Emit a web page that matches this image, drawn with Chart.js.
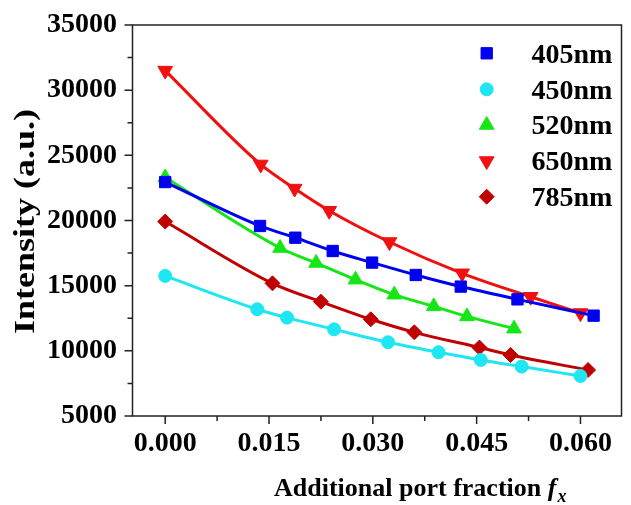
<!DOCTYPE html>
<html><head><meta charset="utf-8">
<script src="https://cdn.jsdelivr.net/npm/chart.js@4.4.0/dist/chart.umd.min.js"></script>
<style>html,body{margin:0;padding:0;background:#fff;overflow:hidden}#wrap{position:relative;width:631px;height:505px}</style>
</head><body><div id="wrap"><canvas id="c" width="631" height="505"></canvas></div>
<script>
const seriesNames = ['405nm', '450nm', '520nm', '650nm', '785nm'];
const x405 = [0, 0.0137, 0.0188, 0.0242, 0.0299, 0.0362, 0.0427, 0.0509, 0.0619];
const y405 = [22950, 19580, 18680, 17660, 16770, 15820, 14930, 13950, 12700];
const x450 = [0, 0.0133, 0.0176, 0.0244, 0.0322, 0.0395, 0.0456, 0.0515, 0.0600];
const y450 = [15750, 13190, 12550, 11650, 10660, 9890, 9300, 8790, 8070];
const x520 = [0, 0.0166, 0.0218, 0.0275, 0.0331, 0.0388, 0.0436, 0.0504];
const y520 = [23300, 17890, 16740, 15460, 14310, 13410, 12640, 11700];
const x650 = [0, 0.0138, 0.0187, 0.0237, 0.0324, 0.0429, 0.0528, 0.0600];
const y650 = [31500, 24300, 22450, 20750, 18350, 15950, 14150, 12900];
const x785 = [0, 0.0155, 0.0225, 0.0297, 0.0360, 0.0454, 0.0499, 0.0611];
const y785 = [19920, 15180, 13770, 12420, 11420, 10250, 9680, 8530];
const xTicks = [0, 0.015, 0.030, 0.045, 0.060];
const yTicks = [5000, 10000, 15000, 20000, 25000, 30000, 35000];
const xTitle = 'Additional port fraction ';
const xTitleVar = 'f';
const xTitleSub = 'x';
const yTitle = 'Intensity (a.u.)';

const FONT = '"Liberation Serif", "Times New Roman", serif';
const colors = ['#0000f0', '#1ee6f2', '#16e616', '#f01010', '#c00000'];
const styles = [
  {pointStyle: 'rect', radius: 8, rotation: 0},
  {pointStyle: 'circle', radius: 6.5, rotation: 0},
  {pointStyle: 'triangle', radius: 8.5, rotation: 0},
  {pointStyle: 'triangle', radius: 8.5, rotation: 180},
  {pointStyle: 'rectRot', radius: 7.5, rotation: 0}
];
const xs = [x405, x450, x520, x650, x785];
const ys = [y405, y450, y520, y650, y785];

const datasets = seriesNames.map((name, i) => ({
  label: name,
  data: xs[i].map((xv, k) => ({x: xv, y: ys[i][k]})),
  borderColor: colors[i],
  backgroundColor: colors[i],
  borderWidth: 3,
  cubicInterpolationMode: 'monotone',
  pointStyle: styles[i].pointStyle,
  pointRadius: styles[i].radius,
  pointRotation: styles[i].rotation,
  pointBorderWidth: 1,
  pointBorderColor: colors[i],
  pointBackgroundColor: colors[i]
}));

const decor = {
  id: 'decor',
  afterDraw(chart) {
    const {ctx, chartArea: a, scales: {x, y}} = chart;
    ctx.save();
    ctx.strokeStyle = '#222';
    ctx.lineWidth = 1.5;
    ctx.strokeRect(a.left, a.top, a.right - a.left, a.bottom - a.top);
    ctx.beginPath();
    for (let i = 0; i < xTicks.length; i++) {
      const px = x.getPixelForValue(xTicks[i]);
      ctx.moveTo(px, a.bottom); ctx.lineTo(px, a.bottom + 8);
      if (i < xTicks.length - 1) {
        const pm = x.getPixelForValue((xTicks[i] + xTicks[i + 1]) / 2);
        ctx.moveTo(pm, a.bottom); ctx.lineTo(pm, a.bottom + 5);
      }
    }
    for (let i = 0; i < yTicks.length; i++) {
      const py = y.getPixelForValue(yTicks[i]);
      ctx.moveTo(a.left, py); ctx.lineTo(a.left - 8, py);
      if (i < yTicks.length - 1) {
        const pm = y.getPixelForValue((yTicks[i] + yTicks[i + 1]) / 2);
        ctx.moveTo(a.left, pm); ctx.lineTo(a.left - 5, pm);
      }
    }
    ctx.stroke();

    // x title
    ctx.fillStyle = '#000';
    ctx.textBaseline = 'alphabetic';
    ctx.textAlign = 'left';
    ctx.font = 'bold 26px ' + FONT;
    let tx = 274, ty = 496;
    ctx.fillText(xTitle, tx, ty);
    tx += ctx.measureText(xTitle).width;
    ctx.font = 'italic bold 26px ' + FONT;
    ctx.fillText(xTitleVar, tx, ty);
    tx += ctx.measureText(xTitleVar).width + 1;
    ctx.font = 'italic bold 18px ' + FONT;
    ctx.fillText(xTitleSub, tx, ty + 6);

    // y title
    ctx.save();
    ctx.translate(33.5, 221.5);
    ctx.rotate(-Math.PI / 2);
    ctx.scale(1.2, 1);
    ctx.font = 'bold 30px ' + FONT;
    ctx.textAlign = 'center';
    ctx.fillText(yTitle, 0, 0);
    ctx.restore();

    // legend
    const rows = [53.3, 89.3, 125, 161, 196.7];
    ctx.font = 'bold 28px ' + FONT;
    ctx.textAlign = 'left';
    ctx.textBaseline = 'middle';
    chart.data.datasets.forEach((ds, i) => {
      ctx.fillStyle = colors[i];
      ctx.strokeStyle = colors[i];
      ctx.lineWidth = 1;
      Chart.helpers.drawPoint(ctx, {pointStyle: styles[i].pointStyle, radius: styles[i].radius, rotation: styles[i].rotation, borderWidth: 1}, 486.7, rows[i]);
      ctx.fillStyle = '#000';
      ctx.fillText(ds.label, 531.5, rows[i] + 2);
    });
    ctx.restore();
  }
};

new Chart(document.getElementById('c'), {
  type: 'line',
  data: {datasets},
  options: {
    responsive: false,
    animation: false,
    devicePixelRatio: 1,
    layout: {padding: {left: 0, top: 25, right: -1, bottom: 0}},
    plugins: {legend: {display: false}, tooltip: {enabled: false}},
    scales: {
      x: {
        type: 'linear', min: -0.004725, max: 0.06593,
        grid: {display: false, drawTicks: false},
        border: {display: false},
        afterBuildTicks: s => { s.ticks = xTicks.map(v => ({value: v})); },
        afterFit: s => { s.height = 89; s.paddingLeft = 0; s.paddingRight = 0; s.paddingTop = 0; s.paddingBottom = 0; },
        ticks: {
          padding: 11, color: '#000', maxRotation: 0, autoSkip: false,
          font: {family: FONT, size: 28, weight: 'bold'},
          callback: v => Number(v).toFixed(3)
        }
      },
      y: {
        type: 'linear', min: 5000, max: 35000,
        grid: {display: false, drawTicks: false},
        border: {display: false},
        afterBuildTicks: s => { s.ticks = yTicks.map(v => ({value: v})); },
        afterFit: s => { s.width = 132.5; s.paddingLeft = 0; s.paddingRight = 0; s.paddingTop = 0; s.paddingBottom = 0; },
        ticks: {
          padding: 15.5, color: '#000', autoSkip: false,
          font: {family: FONT, size: 28, weight: 'bold'},
          callback: v => String(v)
        }
      }
    }
  },
  plugins: [decor]
});
</script>
</body></html>
